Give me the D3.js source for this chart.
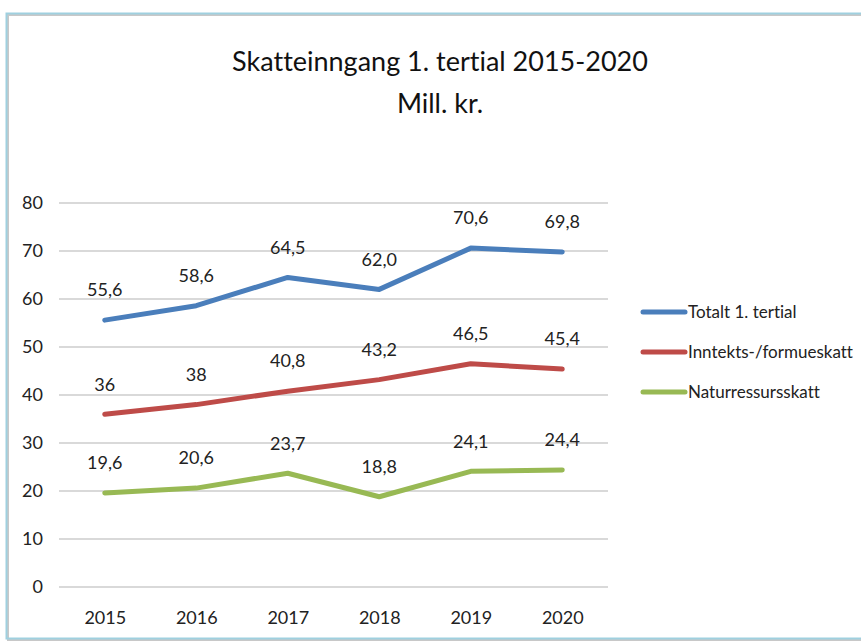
<!DOCTYPE html>
<html>
<head>
<meta charset="utf-8">
<script src="https://cdn.jsdelivr.net/npm/d3@7"></script>
<style>
  body { margin: 0; background: #fff; }
  svg { display: block; }
  text { font-variant-ligatures: none; }
</style>
</head>
<body>
<svg id="chart"></svg>
<script>
const years = ["2015", "2016", "2017", "2018", "2019", "2020"];
const totalt = [55.6, 58.6, 64.5, 62.0, 70.6, 69.8];
const inntekt = [36, 38, 40.8, 43.2, 46.5, 45.4];
const natur = [19.6, 20.6, 23.7, 18.8, 24.1, 24.4];
const totaltLabels = ["55,6", "58,6", "64,5", "62,0", "70,6", "69,8"];
const inntektLabels = ["36", "38", "40,8", "43,2", "46,5", "45,4"];
const naturLabels = ["19,6", "20,6", "23,7", "18,8", "24,1", "24,4"];
const yTicks = [0, 10, 20, 30, 40, 50, 60, 70, 80];

const series = [
    { name: "Totalt 1. tertial", values: totalt, labels: totaltLabels, color: "#4A7EBB" },
    { name: "Inntekts-/formueskatt", values: inntekt, labels: inntektLabels, color: "#BE4B48" },
    { name: "Naturressursskatt", values: natur, labels: naturLabels, color: "#98B954" }
];

const svgWidth = 861;
const svgHeight = 642;
const font = "Lato, sans-serif";
const margin = { top: 203, left: 59 };
const width = 549;
const height = 384;

const svg = d3.select("#chart")
    .attr("width", svgWidth)
    .attr("height", svgHeight)
    .style("font-family", font);

// frame
svg.append("rect")
    .attr("x", 8).attr("y", 15)
    .attr("width", svgWidth + 10).attr("height", 625)
    .attr("fill", "none")
    .attr("stroke", "#c8c8c8").attr("stroke-width", 2);
svg.append("rect")
    .attr("x", 6.5).attr("y", 13.5)
    .attr("width", svgWidth + 10).attr("height", 625)
    .attr("fill", "none")
    .attr("stroke", "#9fd0df").attr("stroke-width", 2);

// Title
svg.append("text")
    .attr("x", 440).attr("y", 71)
    .attr("text-anchor", "middle")
    .style("font-size", "27px")
    .attr("fill", "#111")
    .text("Skatteinngang 1. tertial 2015-2020");
svg.append("text")
    .attr("x", 440).attr("y", 113)
    .attr("text-anchor", "middle")
    .style("font-size", "27px")
    .attr("fill", "#111")
    .text("Mill. kr.");

const g = svg.append("g").attr("transform", `translate(${margin.left},${margin.top})`);

const xScale = d3.scalePoint().domain(years).range([0, width]).padding(0.5);
const yScale = d3.scaleLinear().domain([0, 80]).range([height, 0]);

// gridlines
g.selectAll(".grid")
    .data(yTicks)
    .enter().append("line")
    .attr("x1", 0).attr("x2", width)
    .attr("y1", d => yScale(d)).attr("y2", d => yScale(d))
    .attr("stroke", "#d9d9d9").attr("stroke-width", 2);

// y axis labels
const yAxis = g.append("g")
    .call(d3.axisLeft(yScale).tickValues(yTicks).tickSize(0).tickPadding(16));
yAxis.select(".domain").remove();
yAxis.selectAll("text").style("font-size", "18px").style("font-family", font).attr("fill", "#222");

// x axis labels
const xAxis = g.append("g")
    .attr("transform", `translate(0,${height})`)
    .call(d3.axisBottom(xScale).tickSize(0).tickPadding(24));
xAxis.select(".domain").remove();
xAxis.selectAll("text").style("font-size", "18px").style("font-family", font).attr("fill", "#222");

const line = d3.line()
    .x((d, i) => xScale(years[i]))
    .y(d => yScale(d));

series.forEach(s => {
    g.append("path")
        .datum(s.values)
        .attr("fill", "none")
        .attr("stroke", s.color)
        .attr("stroke-width", 5)
        .attr("stroke-linejoin", "round")
        .attr("stroke-linecap", "round")
        .attr("d", line);

    g.selectAll(null)
        .data(s.values)
        .enter().append("text")
        .attr("x", (d, i) => xScale(years[i]))
        .attr("y", d => yScale(d) - 30)
        .attr("dy", ".35em")
        .attr("text-anchor", "middle")
        .style("font-size", "18px")
        .attr("fill", "#222")
        .text((d, i) => s.labels[i]);
});

// legend
const legend = svg.selectAll(".legend")
    .data(series)
    .enter().append("g")
    .attr("class", "legend")
    .attr("transform", (d, i) => `translate(643,${312 + i * 40})`);

legend.append("line")
    .attr("x1", 0).attr("x2", 42)
    .attr("y1", 0).attr("y2", 0)
    .attr("stroke", d => d.color)
    .attr("stroke-width", 5)
    .attr("stroke-linecap", "round");

legend.append("text")
    .attr("x", 45)
    .attr("y", 0)
    .attr("dy", ".35em")
    .style("font-size", "17px")
    .attr("fill", "#222")
    .text(d => d.name);
</script>
</body>
</html>
